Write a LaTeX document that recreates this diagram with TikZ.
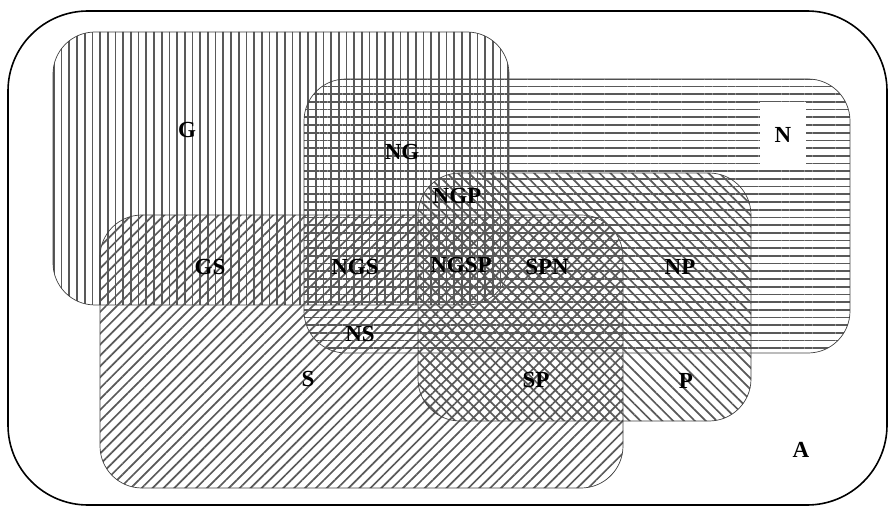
\documentclass[tikz,border=0pt]{standalone}
\usepackage{fontspec}
\setmainfont{Liberation Serif}
\usetikzlibrary{patterns.meta}
\tikzset{
  setbox/.style={draw=black!75, line width=0.7pt, rounded corners=42pt},
  hatch/.style={pattern={Lines[angle=#1, distance=7.7pt, line width=1.7pt]},
                pattern color=black!65},
  lab/.style={font=\fontsize{23}{23}\selectfont\bfseries, inner sep=1pt},
}

\begin{document}
\begin{tikzpicture}[x=1pt, y=-1pt]
\useasboundingbox (0,0) rectangle (891,510);

% universe
\draw[line width=1.6pt, rounded corners=80pt] (8,11) rectangle (887,505);

% sets
\draw[setbox, hatch=90] (53,32) rectangle (509,305);   % G
\draw[setbox, hatch=0]  (304,79) rectangle (850,353);  % N
\draw[setbox, hatch=45] (100,215) rectangle (623,488); % S
\draw[setbox, hatch=-45] (418,173) rectangle (751,421); % P

% labels
\node[lab] (g) at (187,130) {G};
\node[lab, fill=white, minimum width=46pt, minimum height=65pt] (n) at (783,135) {N};
\node[lab] (ng) at (402,152) {NG};
\node[lab] (ngp) at (457,196) {NGP};
\node[lab] (gs) at (210,267) {GS};
\node[lab] (ngs) at (355,267) {NGS};
\node[lab] (ngsp) at (461,265) {NGSP};
\node[lab] (spn) at (547,267) {SPN};
\node[lab] (np) at (680,267) {NP};
\node[lab] (ns) at (360,334) {NS};
\node[lab] (s) at (308,379) {S};
\node[lab] (sp) at (536,380) {SP};
\node[lab] (p) at (686,381) {P};
\node[lab] (a) at (801,450) {A};

\end{tikzpicture}
\end{document}
